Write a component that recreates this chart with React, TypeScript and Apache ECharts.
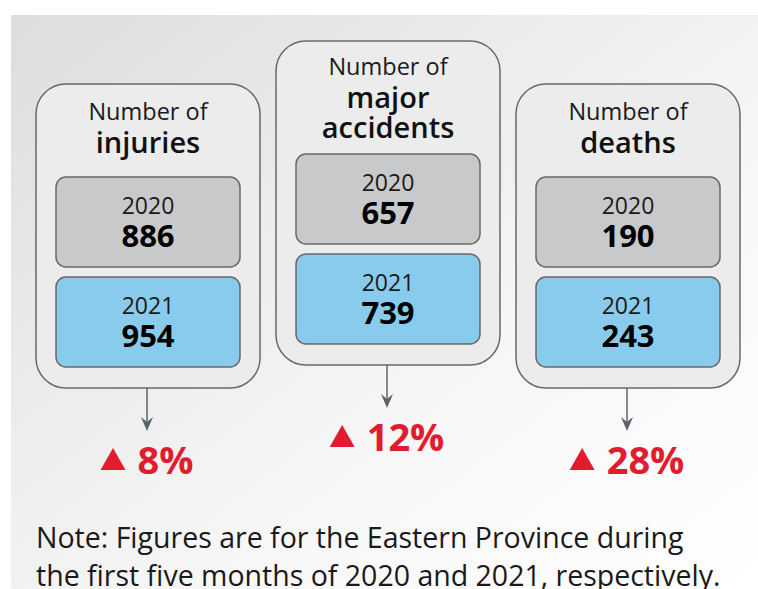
import React, { useEffect, useRef } from "react";
import * as echarts from "echarts";

const categories = ["injuries", "major\naccidents", "deaths"];
const titlePrefix = "Number of";
const years = ["2020", "2021"];
const values2020 = [886, 657, 190];
const values2021 = [954, 739, 243];
const changePct = [8, 12, 28];
const noteLines = [
  "Note: Figures are for the Eastern Province during",
  "the first five months of 2020 and 2021, respectively.",
];

const W = 758;
const H = 589;
const FONT = "'Open Sans', 'Noto Sans', sans-serif";
const cardLeft = [36, 276, 516];
const cardTop = [84, 41, 84];
const cardW = 224;
const boxInset = 20;
const boxH = 90;
const boxGap = 10;
const boxColors = ["#c8c9cb", "#89cbec"];
const RED = "#e31b2e";
const ARROW = "#5d636a";
const STROKE = "#686868";

function measure(text: string, font: string): number {
  const c = document.createElement("canvas").getContext("2d");
  if (!c) return text.length * 20;
  c.font = font;
  return c.measureText(text).width;
}

export default function App() {
  const ref = useRef<HTMLDivElement>(null);
  useEffect(() => {
    if (!ref.current) return;
    const chart = echarts.init(ref.current, undefined, { renderer: "svg" });
    const els: any[] = [];
    els.push({
      type: "rect",
      shape: { x: 11, y: 15, width: W - 11, height: H - 15 },
      style: {
        fill: new echarts.graphic.LinearGradient(0, 0, 1, 1, [
          { offset: 0, color: "#dcdddf" },
          { offset: 0.6, color: "#f6f6f6" },
          { offset: 1, color: "#ffffff" },
        ]),
      },
      silent: true,
    });
    categories.forEach((cat, i) => {
      const lines = cat.split("\n");
      const n = lines.length;
      const T = cardTop[i];
      const L = cardLeft[i];
      const cx = L + cardW / 2;
      const boxTop = T + 93 + (n - 1) * 20;
      const box2Bottom = boxTop + boxH * 2 + boxGap;
      const cardBottom = box2Bottom + 21;
      els.push({
        type: "rect",
        shape: { x: L, y: T, width: cardW, height: cardBottom - T, r: 30 },
        style: { fill: "#ececec", stroke: STROKE, lineWidth: 1.5 },
      });
      els.push({
        type: "text",
        x: cx,
        y: n > 1 ? T + 25 : T + 27,
        style: {
          text: titlePrefix,
          font: `400 23.5px ${FONT}`,
          fill: "#1a1a1a",
          textAlign: "center",
          textVerticalAlign: "middle",
        },
      });
      lines.forEach((ln, j) => {
        els.push({
          type: "text",
          x: cx,
          y: (n > 1 ? T + 55 : T + 57) + j * 30,
          style: {
            text: ln,
            font: `600 29px ${FONT}`,
            fill: "#111",
            textAlign: "center",
            textVerticalAlign: "middle",
          },
        });
      });
      const vals = [values2020[i], values2021[i]];
      years.forEach((yr, k) => {
        const by = boxTop + k * (boxH + boxGap);
        els.push({
          type: "rect",
          shape: { x: L + boxInset, y: by, width: cardW - 2 * boxInset, height: boxH, r: 10 },
          style: { fill: boxColors[k], stroke: STROKE, lineWidth: 1.5 },
        });
        els.push({
          type: "text",
          x: cx,
          y: by + 28,
          style: {
            text: yr,
            font: `400 23px ${FONT}`,
            fill: "#1a1a1a",
            textAlign: "center",
            textVerticalAlign: "middle",
          },
        });
        els.push({
          type: "text",
          x: cx,
          y: by + 58,
          style: {
            text: String(vals[k]),
            font: `700 31px ${FONT}`,
            fill: "#000",
            textAlign: "center",
            textVerticalAlign: "middle",
          },
        });
      });
      // arrow
      const ax = cx - 1;
      const tip = cardBottom + 43;
      els.push({
        type: "line",
        shape: { x1: ax, y1: cardBottom, x2: ax, y2: tip - 8 },
        style: { stroke: ARROW, lineWidth: 1.5 },
      });
      els.push({
        type: "polygon",
        shape: { points: [[ax, tip], [ax - 6, tip - 14], [ax, tip - 9], [ax + 6, tip - 14]] },
        style: { fill: ARROW },
      });
      // percent
      const pctText = `${changePct[i]}%`;
      const pctFont = `700 38px ${FONT}`;
      const tw = measure(pctText, pctFont);
      const triW = 25;
      const gap = 12;
      const total = triW + gap + tw;
      const left = ax - total / 2;
      const pcy = tip + 28;
      els.push({
        type: "polygon",
        shape: {
          points: [[left, pcy + 11], [left + triW / 2, pcy - 11], [left + triW, pcy + 11]],
        },
        style: { fill: RED },
      });
      els.push({
        type: "text",
        x: left + triW + gap,
        y: pcy,
        style: {
          text: pctText,
          font: pctFont,
          fill: RED,
          textAlign: "left",
          textVerticalAlign: "middle",
        },
      });
    });
    noteLines.forEach((t, i) => {
      els.push({
        type: "text",
        x: 36,
        y: 537 + i * 38,
        style: {
          text: t,
          font: `400 28.5px ${FONT}`,
          fill: "#1a1a1a",
          textAlign: "left",
          textVerticalAlign: "middle",
        },
      });
    });
    chart.setOption({
      animation: false,
      graphic: { elements: els },
    });
    return () => chart.dispose();
  }, []);
  return (
    <div
      ref={ref}
      style={{ position: "fixed", left: 0, top: 0, width: W, height: H, background: "#fff" }}
    />
  );
}
